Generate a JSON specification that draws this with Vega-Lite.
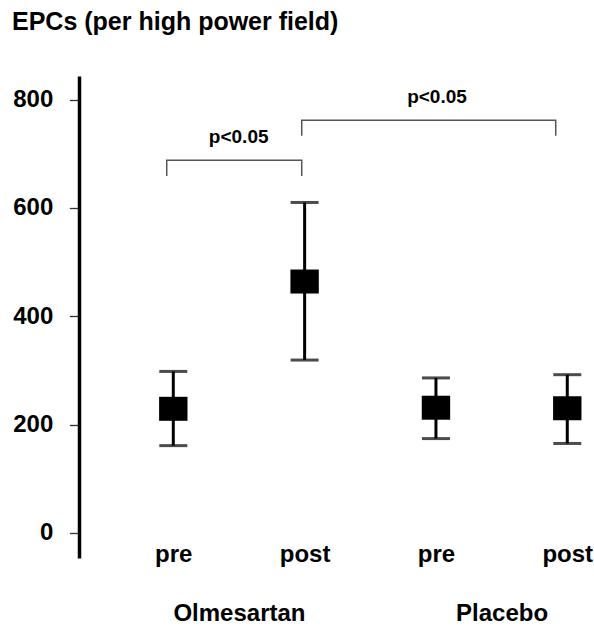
{
  "$schema": "https://vega.github.io/schema/vega-lite/v6.json",
  "width": 511,
  "height": 482,
  "autosize": {"type": "none"},
  "padding": {"left": 79, "top": 76, "right": 4, "bottom": 68},
  "background": "white",
  "title": {
    "text": "EPCs (per high power field)",
    "anchor": "start",
    "frame": "group",
    "dx": -67,
    "offset": 41,
    "fontSize": 25,
    "font": "Liberation Sans",
    "fontWeight": "bold",
    "color": "black"
  },
  "config": {
    "view": {"stroke": null},
    "axis": {
      "grid": false,
      "labelFont": "Liberation Sans",
      "labelFontWeight": "bold",
      "labelColor": "black",
      "labelFontSize": 24
    }
  },
  "datasets": {
    "means": [
      {"group": "Olmesartan", "time": "pre", "pos": 1, "mean": 229, "lower": 161, "upper": 298},
      {"group": "Olmesartan", "time": "post", "pos": 2, "mean": 464, "lower": 319, "upper": 610},
      {"group": "Placebo", "time": "pre", "pos": 3, "mean": 231, "lower": 174, "upper": 286},
      {"group": "Placebo", "time": "post", "pos": 4, "mean": 230, "lower": 165, "upper": 292}
    ],
    "brackets": [
      {"bracket": "A", "ord": 1, "pos": 0.95, "val": 659},
      {"bracket": "A", "ord": 2, "pos": 0.95, "val": 688},
      {"bracket": "A", "ord": 3, "pos": 1.978, "val": 688},
      {"bracket": "A", "ord": 4, "pos": 1.978, "val": 659},
      {"bracket": "B", "ord": 1, "pos": 1.978, "val": 733},
      {"bracket": "B", "ord": 2, "pos": 1.978, "val": 762},
      {"bracket": "B", "ord": 3, "pos": 3.912, "val": 762},
      {"bracket": "B", "ord": 4, "pos": 3.912, "val": 733}
    ],
    "pvals": [
      {"label": "p<0.05", "pos": 1.498, "val": 719},
      {"label": "p<0.05", "pos": 3.008, "val": 794}
    ],
    "groups": [
      {"group": "Olmesartan", "pos": 1.5},
      {"group": "Placebo", "pos": 3.5}
    ]
  },
  "layer": [
    {
      "data": {"name": "means"},
      "mark": {"type": "rule", "strokeWidth": 3, "color": "black"},
      "encoding": {
        "x": {
          "field": "pos",
          "type": "quantitative",
          "scale": {"domain": [0.282, 4.173], "nice": false, "zero": false},
          "axis": {
            "orient": "bottom",
            "values": [1, 2, 3, 4],
            "labelExpr": "datum.value == 1 || datum.value == 3 ? 'pre' : 'post'",
            "domain": false,
            "ticks": false,
            "labelBaseline": "alphabetic",
            "labelPadding": 3.5,
            "labelOverlap": false,
            "labelFlush": false,
            "labelBound": false,
            "title": null
          }
        },
        "y": {
          "field": "lower",
          "type": "quantitative",
          "scale": {"domain": [-46.5, 843.5], "nice": false, "zero": false},
          "axis": {
            "values": [0, 200, 400, 600, 800],
            "title": null,
            "domainColor": "black",
            "domainWidth": 3.5,
            "tickColor": "#333",
            "tickWidth": 1.3,
            "tickSize": 9.7,
            "labelPadding": 16.5,
            "labelFlush": false,
            "labelBound": false,
            "labelOverlap": false
          }
        },
        "y2": {"field": "upper"}
      }
    },
    {
      "data": {"name": "means"},
      "mark": {"type": "tick", "orient": "horizontal", "size": 28, "thickness": 3, "color": "black"},
      "encoding": {
        "x": {"field": "pos", "type": "quantitative", "axis": null},
        "y": {"field": "lower", "type": "quantitative", "title": null}
      }
    },
    {
      "data": {"name": "means"},
      "mark": {"type": "tick", "orient": "horizontal", "size": 28, "thickness": 3, "color": "black"},
      "encoding": {
        "x": {"field": "pos", "type": "quantitative", "axis": null},
        "y": {"field": "upper", "type": "quantitative", "title": null}
      }
    },
    {
      "data": {"name": "means"},
      "mark": {
        "type": "point",
        "shape": "M-1,-0.845L1,-0.845L1,0.845L-1,0.845Z",
        "size": 806,
        "filled": true,
        "color": "black",
        "opacity": 1,
        "strokeWidth": 0
      },
      "encoding": {
        "x": {"field": "pos", "type": "quantitative", "axis": null},
        "y": {"field": "mean", "type": "quantitative", "title": null}
      }
    },
    {
      "data": {"name": "brackets"},
      "mark": {"type": "line", "color": "#555", "strokeWidth": 1.5},
      "encoding": {
        "x": {"field": "pos", "type": "quantitative", "axis": null},
        "y": {"field": "val", "type": "quantitative", "title": null},
        "detail": {"field": "bracket"},
        "order": {"field": "ord", "type": "quantitative"}
      }
    },
    {
      "data": {"name": "pvals"},
      "mark": {
        "type": "text",
        "font": "Liberation Sans",
        "fontWeight": "bold",
        "fontSize": 19,
        "color": "black",
        "baseline": "alphabetic",
        "align": "center"
      },
      "encoding": {
        "x": {"field": "pos", "type": "quantitative", "axis": null},
        "y": {"field": "val", "type": "quantitative", "title": null},
        "text": {"field": "label"}
      }
    },
    {
      "data": {"name": "groups"},
      "mark": {"type": "rule", "opacity": 0},
      "encoding": {
        "x": {
          "field": "pos",
          "type": "quantitative",
          "axis": {
            "orient": "bottom",
            "values": [1.5, 3.5],
            "labelExpr": "datum.value < 2 ? 'Olmesartan' : 'Placebo'",
            "domain": false,
            "ticks": false,
            "labelBaseline": "alphabetic",
            "labelPadding": 62,
            "labelOverlap": false,
            "labelFlush": false,
            "labelBound": false,
            "title": null
          }
        }
      }
    }
  ],
  "resolve": {"axis": {"x": "independent"}}
}
